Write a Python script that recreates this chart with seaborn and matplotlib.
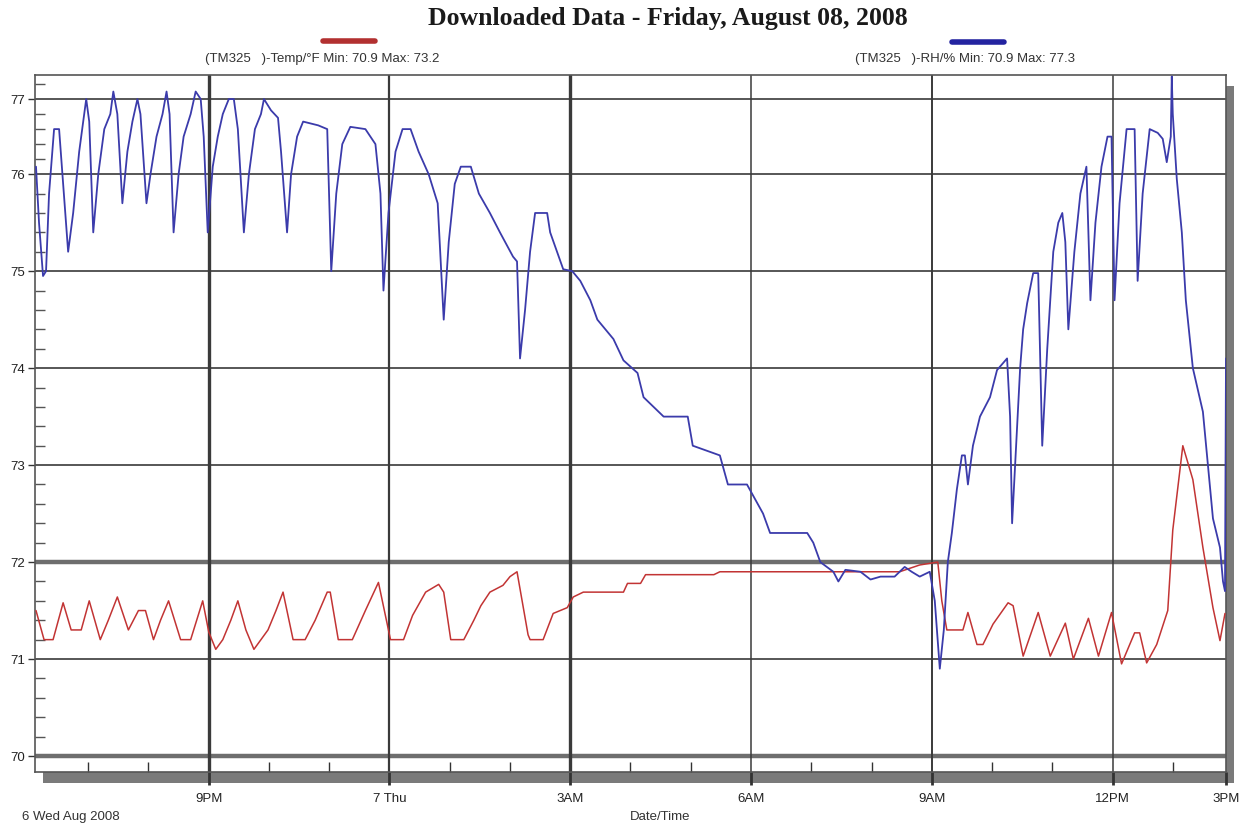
import numpy as np
import pandas as pd
import matplotlib
matplotlib.use("Agg")
import matplotlib.pyplot as plt
import matplotlib.dates as mdates
from matplotlib.patches import Rectangle
from matplotlib.lines import Line2D
from matplotlib.ticker import MultipleLocator, FixedLocator
import seaborn as sns

# ---------------- data ----------------
BASE = pd.Timestamp("2008-08-07 00:00")

# RH series (minutes relative to midnight Aug 7, value)
rh_minutes = [-352, -349, -345, -342, -339, -334, -329, -325, -320, -315, -309, -302, -299, -295,
              -290, -284, -278, -275, -271, -266, -261, -256, -251, -248, -242, -238, -232, -226,
              -222, -219, -215, -210, -205, -198, -193, -188, -185, -181, -176, -171, -166, -160,
              -155, -151, -145, -140, -134, -128, -125, -118, -111, -108, -102, -98, -92, -86,
              -71, -62, -58, -53, -47, -39, -24, -14, -9, -6, -1, 6, 13, 21, 29, 39, 48, 54,
              59, 65, 71, 81, 89, 100, 110, 123, 127, 130, 135, 140, 145, 157, 160, 173, 182,
              190, 200, 207, 223, 233, 247, 253, 273, 297, 302, 329, 337, 356, 372, 379, 416,
              422, 429, 442, 447, 454, 469, 479, 489, 503, 513, 520, 528, 538, 543, 548, 552,
              556, 560, 565, 570, 573, 576, 581, 588, 598, 605, 615, 618, 620, 624, 628, 631,
              635, 641, 646, 650, 655, 661, 666, 670, 673, 676, 682, 688, 694, 698, 703, 709,
              715, 719, 722, 727, 734, 742, 745, 750, 757, 765, 770, 774, 778, 779, 780, 784,
              789, 793, 800, 810, 815, 820, 827, 830, 832, 833]
rh_values = [76.1, 75.5, 74.95, 75.0, 75.8, 76.6, 76.6, 75.9, 75.2, 75.6, 76.3, 77.0, 76.7, 75.4,
             76.0, 76.6, 76.8, 77.1, 76.8, 75.7, 76.3, 76.7, 77.0, 76.8, 75.7, 76.0, 76.5, 76.8,
             77.1, 76.8, 75.4, 76.0, 76.5, 76.8, 77.1, 77.0, 76.5, 75.4, 76.1, 76.5, 76.8, 77.0,
             77.0, 76.6, 75.4, 76.0, 76.6, 76.8, 77.0, 76.85, 76.75, 76.3, 75.4, 76.0, 76.5, 76.7,
             76.65, 76.6, 75.0, 75.8, 76.4, 76.63, 76.6, 76.4, 75.8, 74.8, 75.6, 76.3, 76.6, 76.6,
             76.3, 76.0, 75.7, 74.5, 75.3, 75.9, 76.1, 76.1, 75.8, 75.6, 75.4, 75.15, 75.1, 74.1,
             74.6, 75.2, 75.6, 75.6, 75.4, 75.02, 75.0, 74.9, 74.7, 74.5, 74.3, 74.08, 73.95,
             73.7, 73.5, 73.5, 73.2, 73.1, 72.8, 72.8, 72.5, 72.3, 72.3, 72.2, 72.0, 71.9, 71.8,
             71.92, 71.9, 71.82, 71.85, 71.85, 71.95, 71.9, 71.85, 71.9, 71.6, 70.9, 71.3, 72.0,
             72.3, 72.75, 73.1, 73.1, 72.8, 73.2, 73.5, 73.7, 73.98, 74.1, 73.5, 72.4, 73.2, 74.0,
             74.4, 74.67, 74.98, 74.98, 73.2, 74.2, 75.2, 75.5, 75.6, 75.3, 74.4, 75.2, 75.8,
             76.1, 74.7, 75.5, 76.1, 76.5, 76.5, 74.7, 75.7, 76.6, 76.6, 74.9, 75.8, 76.6, 76.55,
             76.47, 76.16, 76.5, 77.3, 76.8, 75.95, 75.4, 74.7, 74.0, 73.55, 73.0, 72.45, 72.15,
             71.8, 71.7, 74.1]

# Temperature series (minutes relative to midnight Aug 7, value)
temp_minutes = [-352, -344, -335, -325, -317, -307, -299, -288, -280, -271, -260, -250, -243, -235,
                -228, -220, -208, -198, -186, -180, -173, -166, -158, -151, -143, -135, -128,
                -121, -113, -106, -96, -84, -74, -62, -59, -51, -37, -24, -11, 1, 14, 23, 36, 49,
                54, 61, 74, 84, 91, 100, 113, 120, 127, 138, 140, 153, 163, 177, 183, 193, 233,
                237, 250, 255, 323, 329, 508, 528, 546, 550, 555, 571, 576, 585, 591, 601, 616,
                621, 631, 646, 658, 673, 681, 696, 706, 719, 729, 742, 747, 754, 764, 775, 780,
                790, 800, 810, 820, 827, 832]
temp_values = [71.5, 71.2, 71.2, 71.58, 71.3, 71.3, 71.6, 71.2, 71.4, 71.64, 71.3, 71.5, 71.5, 71.2,
               71.4, 71.6, 71.2, 71.2, 71.6, 71.28, 71.1, 71.2, 71.4, 71.6, 71.3, 71.1, 71.2,
               71.3, 71.5, 71.69, 71.2, 71.2, 71.4, 71.69, 71.69, 71.2, 71.2, 71.5, 71.79, 71.2,
               71.2, 71.45, 71.69, 71.77, 71.69, 71.2, 71.2, 71.4, 71.55, 71.69, 71.76, 71.85,
               71.9, 71.25, 71.2, 71.2, 71.47, 71.53, 71.64, 71.69, 71.69, 71.78, 71.78, 71.87,
               71.87, 71.9, 71.9, 71.97, 72.0, 71.6, 71.3, 71.3, 71.48, 71.15, 71.15, 71.36, 71.58,
               71.55, 71.03, 71.48, 71.03, 71.37, 71.0, 71.42, 71.03, 71.48, 70.95, 71.27, 71.27,
               70.96, 71.15, 71.5, 72.33, 73.2, 72.85, 72.15, 71.53, 71.19, 71.47]

x_tick_hours = [-3, 0, 3, 6, 9, 12]
x_tick_labels = ["9PM", "7 Thu", "3AM", "6AM", "9AM", "12PM", "3PM"]
y_ticks = [70, 71, 72, 73, 74, 75, 76, 77]

title = "Downloaded Data - Friday, August 08, 2008"
temp_label = "(TM325   )-Temp/°F Min: 70.9 Max: 73.2"
rh_label = "(TM325   )-RH/% Min: 70.9 Max: 77.3"

# ---------------- figure ----------------
sns.set_theme(style="white")
plt.rcParams['font.family'] = ['Liberation Sans', 'DejaVu Sans']

W, H = 1243, 831
fig = plt.figure(figsize=(W / 100, H / 100), dpi=100)
L, R, T, B = 35, 1226, 75, 772
ax = fig.add_axes([L / W, 1 - B / H, (R - L) / W, (B - T) / H])
ax.set_zorder(2)

# drop shadow
fig.add_artist(Rectangle(((L + 8) / W, 1 - (B + 11) / H), (R - L) / W, (B - T) / H,
                         transform=fig.transFigure, facecolor="#7a7a7a", edgecolor="none", zorder=0))

# y scale compressed above 76 (as in the reference image)
K = 0.775
def fwd(v):
    v = np.asarray(v, dtype=float)
    return np.where(v > 76, 76 + (v - 76) * K, v)
def inv(u):
    u = np.asarray(u, dtype=float)
    return np.where(u > 76, 76 + (u - 76) / K, u)
ax.set_yscale("function", functions=(fwd, inv))

rh = pd.DataFrame({"time": BASE + pd.to_timedelta(rh_minutes, unit="min"), "value": rh_values})
temp = pd.DataFrame({"time": BASE + pd.to_timedelta(temp_minutes, unit="min"), "value": temp_values})

# grid lines
for yv in y_ticks:
    thick = yv in (70, 72)
    ax.axhline(yv, color="#6e6e6e" if thick else "#3a3a3a", lw=3.2 if thick else 1.2, zorder=1)
vwidths = {-3: 2.4, 0: 1.6, 3: 2.4, 6: 1.1, 9: 1.4, 12: 1.1}
for h in x_tick_hours:
    ax.axvline(BASE + pd.Timedelta(hours=h), color="#3a3a3a", lw=vwidths[h], zorder=1)

sns.lineplot(data=temp, x="time", y="value", ax=ax, color="#c23434", lw=1.1,
             estimator=None, sort=False, zorder=3)
sns.lineplot(data=rh, x="time", y="value", ax=ax, color="#3b3bab", lw=1.3,
             estimator=None, sort=False, zorder=4)

x0 = BASE + pd.Timedelta(minutes=-353)
x1 = BASE + pd.Timedelta(minutes=833)
ax.set_xlim(x0, x1)
ax.set_ylim(69.835, 77.32)

# ticks
xt = [BASE + pd.Timedelta(hours=h) for h in x_tick_hours] + [x1]
ax.xaxis.set_major_locator(FixedLocator(mdates.date2num(xt)))
ax.set_xticklabels(x_tick_labels)
ax.xaxis.set_minor_locator(mdates.HourLocator())
ax.tick_params(axis="x", which="major", direction="out", length=9, width=2, color="#333333",
               pad=6, labelsize=9.5, labelcolor="#222222", bottom=True)
ax.tick_params(axis="x", which="minor", direction="in", length=7, width=1, color="#333333", bottom=True)

ax.yaxis.set_major_locator(FixedLocator(y_ticks))
ax.set_yticklabels([str(v) for v in y_ticks])
ax.yaxis.set_minor_locator(MultipleLocator(0.2))
ax.tick_params(axis="y", which="major", direction="out", length=5, width=1, color="#333333",
               pad=2, labelsize=9.5, labelcolor="#222222", left=True)
ax.tick_params(axis="y", which="minor", direction="in", length=7, width=1, color="#555555", left=True)

ax.set_xlabel("")
ax.set_ylabel("")
for s in ax.spines.values():
    s.set_color("#555555")
    s.set_linewidth(1.2)

# texts
fig.text(668 / W, 1 - 18 / H, title, ha="center", va="center", fontsize=18.5, fontweight="bold",
         family=["Liberation Serif", "DejaVu Serif"], color="#1a1a1a")
fig.add_artist(Line2D([323 / W, 375 / W], [1 - 41 / H] * 2, transform=fig.transFigure,
                      color="#b23030", lw=4))
fig.add_artist(Line2D([952 / W, 1004 / W], [1 - 42 / H] * 2, transform=fig.transFigure,
                      color="#2323a0", lw=4))
fig.text(205 / W, 1 - 59 / H, temp_label, ha="left", va="center", fontsize=9.5, color="#333333")
fig.text(855 / W, 1 - 59 / H, rh_label, ha="left", va="center", fontsize=9.5, color="#333333")
fig.text(660 / W, 1 - 817 / H, "Date/Time", ha="center", va="center", fontsize=9.5, color="#333333")
fig.text(22 / W, 1 - 817 / H, "6 Wed Aug 2008", ha="left", va="center", fontsize=9.5, color="#333333")

fig.savefig("out.png", dpi=100, facecolor="white")
